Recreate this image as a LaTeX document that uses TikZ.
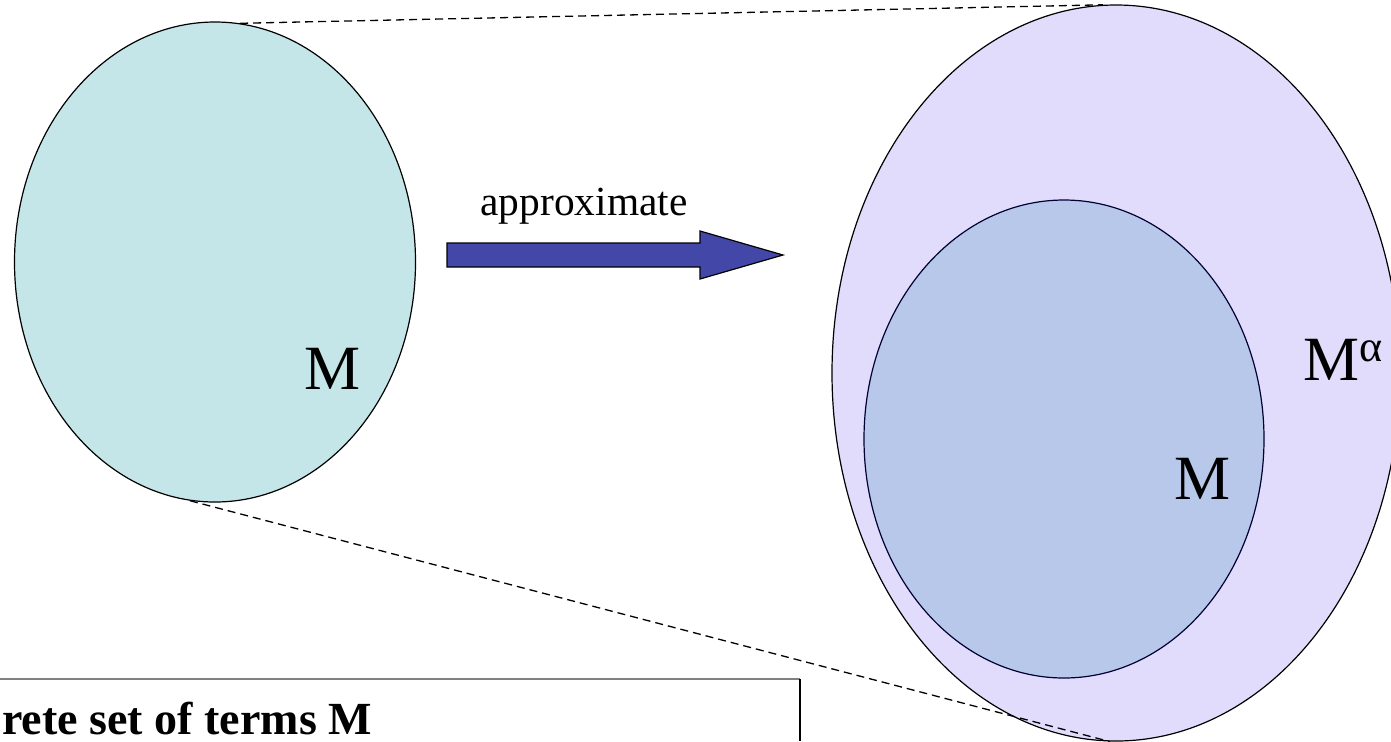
\documentclass[tikz,border=0pt]{standalone}
\usepackage{fontspec}
\setmainfont{Liberation Serif}
\usetikzlibrary{shapes,arrows,positioning}

\definecolor{concretefill}{HTML}{C4E6E8}
\definecolor{abstractfill}{HTML}{E2DCFC}
\definecolor{innerfill}{HTML}{B8C8EA}
\definecolor{arrowfill}{HTML}{4348A8}

\tikzset{
  setshape/.style={draw, ellipse, inner sep=0pt, line width=0.6pt},
  setlabel/.style={font=\fontsize{31.5}{36}\selectfont, inner sep=0pt},
  zoomline/.style={dash pattern=on 4pt off 2.5pt, line width=0.65pt}
}

\begin{document}
\begin{tikzpicture}[x=0.5pt, y=-0.5pt]
    \useasboundingbox (0,0) rectangle (1391,741);

    % the three sets
    \node[setshape, fill=concretefill, minimum width=200.5pt, minimum height=240pt] (setM) at (215,262) {};
    \node[setshape, fill=abstractfill, minimum width=284pt, minimum height=368pt] (setMa) at (1116,373) {};
    \node[setshape, fill=innerfill, draw=black!80!blue, minimum width=200pt, minimum height=239pt] (innerM) at (1064,439) {};

    \node[setlabel] (labM) at (333,369) {M};
    \node[setlabel] (labinnerM) at (1202,479) {M};
    \node[setlabel, anchor=base west] (labMa) at (1303,380) {M\textsuperscript{α}};

    % zoom lines
    \draw[zoomline] (setM.84) -- (setMa.92);
    \draw[zoomline] (setM.264) -- (setMa.269);

    % block arrow
    \draw[fill=arrowfill, line width=0.6pt] (447,243) -- (700,243) -- (700,231) -- (783,255)
        -- (700,279) -- (700,267) -- (447,267) -- cycle;
    \node[font=\fontsize{20.7}{24}\selectfont, anchor=base] (approxlabel) at (584,215) {approximate};

    % caption box, cut at the border
    \draw[black!50, line width=0.6pt] (0,679) -- (800,679);
    \draw[line width=0.8pt] (800,679) -- (800,741);
    \node[font=\fontsize{23}{27}\selectfont\bfseries, anchor=base west, inner sep=0pt] (caption) at (2,734) {rete set of terms M};
\end{tikzpicture}
\end{document}
